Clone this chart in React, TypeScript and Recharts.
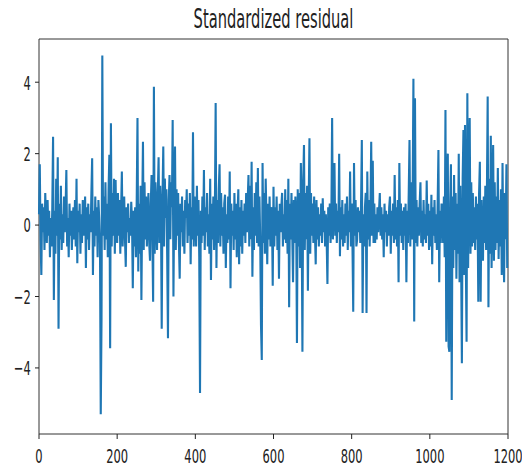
import React from "react";
import { LineChart, Line, XAxis, YAxis, ReferenceArea } from "recharts";

// standardized residuals, one value every 2 steps
const seg0 = [
  0.3, 1.7, -0.4, -1.4, 0.6, -0.2, 0.5, -0.7, 0.9, 0.1,
  -0.5, 0.7, -0.3, 0.4, -0.9, 0.2, -0.6, 0.5, 2.47, -2.1,
  0.4, -0.8, 1.3, -0.3, 1.9, -2.9, 0.6, -0.4, 1.1, -0.7,
  0.3, -0.5, 0.8, -0.2, 0.5, 1.54, -0.6, 0.2, -0.9, 0.6,
  -0.3, 0.4, -0.7, 0.1, 0.5, -0.4, 0.7, -0.6, 1.3, -1.07,
  0.4, -0.2, 0.6, -0.8, 0.3, -0.5, 0.7, -0.3, 0.2, 0.8,
  -1.2, 0.5, -0.4, 0.6, -0.7, 0.3, -0.2, 0.9, 1.87, -1.4,
  0.4, -0.6, 0.8, -0.3, 0.5, -0.9, 0.7, 0.2, -0.5, -5.3,
  -2.6, 4.75, -0.3, 0.8, -0.7, 1.2, -0.4, 0.6, -0.9, 1.0,
  1.97, -3.45, 2.85, -0.6, 0.9, -0.3, 1.3, -0.8, 1.26, -0.2,
];
const seg1 = [
  -0.5, 0.9, -0.3, 0.7, -0.8, 0.4, 1.5, -0.6, 0.3, 0.8,
  -0.4, -1.17, 0.5, -0.2, 0.6, -0.5, 0.2, -0.3, 0.65, 0.1,
  -1.77, 0.4, -0.6, 0.5, -0.9, 0.7, 3.0, -1.3, 0.6, -0.8,
  1.1, -2.1, 0.4, 2.33, -0.7, 1.2, -0.4, 0.8, -0.6, 0.3,
  0.9, -0.5, -1.0, 0.6, 1.4, -0.3, -2.15, 3.87, -0.8, 1.2,
  0.4, -0.7, 0.9, 1.9, -0.5, 1.1, 0.3, -2.9, 0.8, 2.2,
  -0.6, 1.3, 0.2, 1.0, -0.9, -3.17, 0.7, 1.4, -0.4, 1.2,
  0.5, 2.94, -2.0, 0.8, 2.2, -0.7, 1.0, -0.3, 0.9, -0.5,
  -1.5, 0.6, -0.2, 0.8, -0.6, 0.4, -0.8, 0.7, 0.2, 1.0,
  -0.5, 0.6, -0.3, 0.9, -1.1, 0.5, -0.4, 2.6, -0.6, 0.8,
];
const seg2 = [
  0.5, -0.6, 1.1, -0.3, 0.7, -0.9, -4.7, 0.4, -0.5, 0.8,
  -0.3, 1.54, -0.7, 0.5, -0.2, 0.9, -0.6, 0.3, -0.8, 1.3,
  -1.54, 0.6, -0.4, 0.8, -0.7, 0.4, 3.42, -1.2, 0.7, -0.5,
  1.0, 1.7, -0.6, 0.9, -0.3, 0.5, -0.8, 0.6, 0.85, -1.2,
  0.3, -0.5, 0.8, -0.4, 1.5, -1.77, 0.6, -0.3, 0.4, -0.7,
  0.9, -0.4, 0.6, -0.9, 0.3, 1.0, -1.1, 0.5, -0.6, 0.7,
  -0.8, 0.4, -0.3, 0.6, -0.5, 0.9, -0.2, 0.7, 1.4, -0.6,
  1.1, -0.4, 1.77, -1.45, 0.5, -0.7, 0.9, -0.3, 1.2, -0.5,
  1.6, -0.6, 0.8, -0.4, -2.8, -3.78, 1.74, -0.5, 0.9, -0.8,
  1.3, 0.2, -1.1, 0.6, -0.4, 0.8, -0.6, 0.5, 0.3, -1.7,
];
const seg3 = [
  1.07, -0.6, 0.5, -0.3, 0.8, -0.7, 0.4, -1.5, 0.6, -0.2,
  0.5, 0.9, -0.6, 0.3, -0.4, 1.0, -0.5, 0.7, -0.8, 1.3,
  -2.3, 0.6, -0.4, 0.9, -0.3, -1.6, 0.7, -0.5, 0.8, 0.2,
  -3.3, 1.0, -0.6, 0.9, -1.2, 1.74, 0.4, -3.55, 1.2, 2.24,
  -0.7, 0.9, -0.4, 1.1, -1.84, 0.6, 2.43, -0.8, 0.9, -0.3,
  0.6, -0.5, 0.8, -0.2, -1.1, 0.7, -0.4, 0.5, -0.6, 0.3,
  -0.3, 0.6, -0.5, 0.75, -0.2, 0.4, -0.6, 0.3, -0.4, -1.65,
  0.5, -0.3, 0.6, -0.5, 0.2, 3.0, -0.4, 0.7, 1.74, -0.3,
  0.6, -0.5, 0.4, -0.2, 2.0, -0.87, 0.5, -0.4, 0.7, -0.6,
  0.3, -0.5, 0.6, -0.3, 0.8, -0.7, 0.4, -0.2, 1.5, -0.6,
];
const seg4 = [
  0.6, -0.5, -2.43, 1.74, -0.3, 0.7, -0.6, -0.4, 0.5, -0.2,
  0.4, -0.5, 0.6, 2.38, -2.46, 0.3, -0.6, 0.5, 0.9, -2.46,
  1.5, -0.4, 0.7, -0.6, 0.4, 2.33, -0.3, 1.8, -0.5, 0.6,
  -0.5, 0.3, -0.4, 0.5, -0.2, 0.4, 0.9, -0.3, 0.5, -0.4,
  0.3, -0.9, 0.6, -0.2, 0.4, -0.6, 0.3, -0.3, 0.5, 0.8,
  -0.8, 0.4, -0.3, 0.6, -0.5, 1.4, -0.4, 0.5, -0.6, 0.7,
  -1.6, 1.74, -0.3, 0.6, -0.5, 0.4, -0.7, 0.5, -0.3, 0.6,
  -1.6, 0.4, -0.5, 0.9, 2.38, -0.6, 1.2, -0.4, 0.8, 4.1,
  -2.7, 3.55, -0.5, 0.7, -0.6, 0.5, -0.3, 0.6, 1.2, -0.5,
  0.4, -0.6, 0.7, -0.4, 0.3, -0.5, 1.25, -0.3, 0.6, -0.7,
];
const seg5 = [
  0.4, -0.6, 0.85, -1.1, 0.5, -0.3, 0.7, -0.5, 0.3, -0.7,
  0.6, 2.1, -1.6, 0.4, -0.5, 0.6, 0.5, -0.5, 0.8, -0.9,
  3.22, -3.27, 0.9, 2.0, -3.4, -3.55, 0.6, 1.7, -4.9, 0.8,
  -1.2, 1.4, -0.7, 0.9, -1.5, 0.6, -0.8, 2.0, -1.6, 1.1,
  -0.9, -3.87, 1.3, 2.66, -1.4, 2.8, -0.9, -3.27, 3.69, -1.2,
  1.5, 3.0, -0.8, 1.2, -0.6, 0.9, -0.5, 0.5, -0.7, 0.8,
  -0.4, 0.6, -2.15, 0.9, 1.77, -2.15, 0.7, -0.6, -1.0, 0.8,
  -0.5, 1.1, -0.7, 0.9, 3.6, -2.3, 1.3, -0.8, 2.5, -1.2,
  0.9, 2.24, -1.0, 1.2, -0.7, 0.8, -0.5, 1.6, -0.95, 0.7,
  -0.6, 1.0, -1.4, 1.74, -0.5, -1.6, 0.9, -0.4, 1.7, -1.2,
];

const segments = [seg0, seg1, seg2, seg3, seg4, seg5];
const xTicks = [0, 200, 400, 600, 800, 1000, 1200];
const yTicks = [-4, -2, 0, 2, 4];

const data = segments.flatMap((seg, s) =>
  seg.map((v, i) => ({ x: s * 200 + i * 2, resid: v }))
);

const FONT = "DejaVu Sans";
const STRETCH = 1.75; // the original figure looks stretched vertically
const PLOT_BOTTOM = 434;

const fmt = (v: number) => (v < 0 ? "\u2212" + Math.abs(v) : String(v));

// place x labels from the plot bottom, not from whatever offset the tick gets
const XTick = (props: any) => {
  const { x, payload } = props;
  return (
    <g transform={`translate(${x},${PLOT_BOTTOM + 29}) scale(1,${STRETCH})`}>
      <text x={0} y={0} textAnchor="middle" fontFamily={FONT} fontSize={11.5} fill="#222">
        {fmt(payload.value)}
      </text>
    </g>
  );
};

const YTick = (props: any) => {
  const { payload, y } = props;
  return (
    <g transform={`translate(30.7,${y}) scale(1,${STRETCH})`}>
      <text x={0} y={4.2} textAnchor="end" fontFamily={FONT} fontSize={11.5} fill="#222">
        {fmt(payload.value)}
      </text>
    </g>
  );
};

export default function App() {
  return (
    <div style={{ width: 522, height: 469 }}>
      <style>{"body{margin:0}"}</style>
      <LineChart
        width={522}
        height={469}
        data={data}
        margin={{ top: 39, right: 14, bottom: 0, left: 8 }}
      >
        <g transform={`translate(273.5,28.3) scale(1,${STRETCH})`}>
          <text x={0} y={0} textAnchor="middle" fontFamily={FONT} fontSize={14.7} fill="#222">
            Standardized residual
          </text>
        </g>
        <XAxis
          dataKey="x"
          type="number"
          domain={[0, 1200]}
          ticks={xTicks}
          height={35}
          tickSize={5}
          tick={<XTick />}
          axisLine={false}
          tickLine={{ stroke: "#222" }}
          interval={0}
        />
        <YAxis
          type="number"
          domain={[-5.85, 5.21]}
          ticks={yTicks}
          width={31}
          tickSize={4}
          tick={<YTick />}
          axisLine={false}
          tickLine={{ stroke: "#222" }}
          interval={0}
          allowDataOverflow
        />
        <Line
          type="linear"
          dataKey="resid"
          stroke="#1f77b4"
          strokeWidth={2.1}
          strokeLinejoin="miter"
          dot={false}
          isAnimationActive={false}
        />
        <ReferenceArea
          x1={0}
          x2={1200}
          y1={-5.85}
          y2={5.21}
          fill="none"
          stroke="#333"
          strokeWidth={1}
          ifOverflow="visible"
        />
      </LineChart>
    </div>
  );
}
